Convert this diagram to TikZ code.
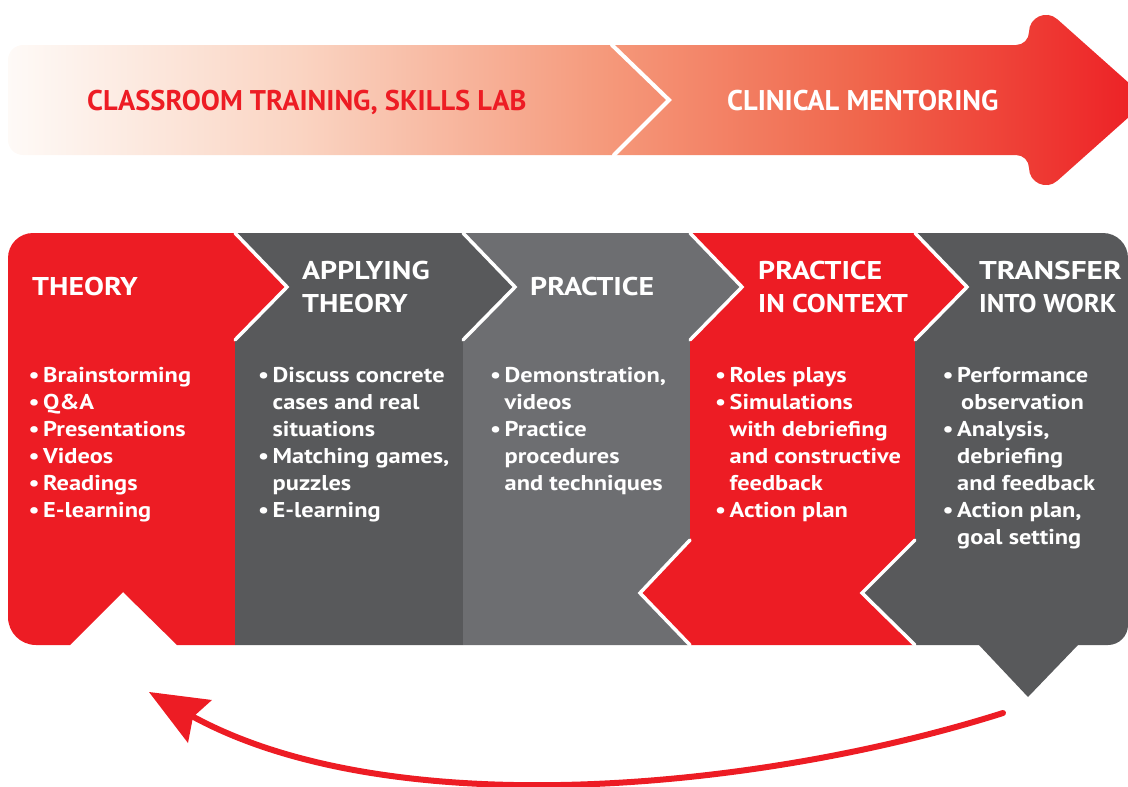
\documentclass[tikz,border=0pt]{standalone}
\usepackage{fontspec}
\setmainfont{PT Sans}
\newfontfamily\itemfont[FakeStretch=1.14]{PT Sans}
\newfontfamily\titlefont[FakeStretch=1.16]{PT Sans}
\definecolor{cred}{HTML}{ED1C24}
\definecolor{cdark}{HTML}{58595B}
\definecolor{cmid}{HTML}{6D6E71}
\definecolor{gA}{RGB}{254,250,247}
\definecolor{gB}{RGB}{250,212,194}
\definecolor{gC}{RGB}{245,152,122}
\definecolor{gD}{RGB}{240,102,76}
\definecolor{gE}{RGB}{237,30,36}
\pgfdeclarehorizontalshading{topgrad}{100bp}{color(0bp)=(gA); color(25bp)=(gA); color(37.8bp)=(gB); color(51.4bp)=(gC); color(62.4bp)=(gD); color(75bp)=(gE); color(100bp)=(gE)}
\newcommand{\bulx}{\makebox[14.5pt][l]{•}}
\newcommand{\indx}{\hspace*{14.5pt}}
\tikzset{
  wline/.style={draw=white, line width=3.5pt, line cap=round, line join=miter},
  ttl/.style={text=white, font=\titlefont\bfseries\fontsize{25.7}{33}\selectfont, anchor=base west, align=left, inner sep=0pt},
  itemlist/.style={text=white, font=\itemfont\bfseries\fontsize{21.4}{27}\selectfont, anchor=base west, align=left, inner sep=0pt},
  toptxt/.style={font=\bfseries\fontsize{28.5}{30}\selectfont, anchor=base west, inner sep=0pt},
}
\begin{document}
\begin{tikzpicture}[x=1pt,y=-1pt]
\useasboundingbox (0,0) rectangle (1128,787);
\clip (0,0) rectangle (1128,787);

% top gradient arrow
\shade[shading=topgrad]
  (8,100) -- (8,60) .. controls (8,51.7) and (14.7,45) .. (23,45)
  -- (1016,45) .. controls (1023.2,45) and (1029,39.2) .. (1029,32)
  .. controls (1029,17.3) and (1046.3,9.4) .. (1057.3,19.2)
  -- (1148,100)
  -- (1057.3,180.8) .. controls (1046.3,190.6) and (1029,182.7) .. (1029,168)
  .. controls (1029,160.8) and (1023.2,155) .. (1016,155)
  -- (23,155) .. controls (14.7,155) and (8,148.3) .. (8,140) -- cycle;
\draw[wline, line width=4pt] (612,45) -- (669,100) -- (614,155);
\node[toptxt, text=cred] (classroom) at (87,110) {CLASSROOM TRAINING, SKILLS LAB};
\node[toptxt, text=white] (clinical) at (727,110) {CLINICAL MENTORING};

% panels
\fill[cred] (8,290) -- (8,258) .. controls (8,244.2) and (19.2,233) .. (33,233)
  -- (235,233) -- (287,287) -- (235,340) -- (235,645) -- (177,645) -- (123,592) -- (70,645)
  -- (36,645) .. controls (20.5,645) and (8,632.5) .. (8,617) -- cycle;
\fill[cdark] (235,233) -- (463,233) -- (515,287) -- (463,340) -- (463,645) -- (235,645)
  -- (235,340) -- (287,287) -- cycle;
\fill[cmid] (463,233) -- (690,233) -- (742,287) -- (690,340) -- (690,540) -- (640,593)
  -- (690,645) -- (463,645) -- (463,340) -- (515,287) -- cycle;
\fill[cred] (690,233) -- (915,233) -- (967,287) -- (915,340) -- (915,540) -- (862,593)
  -- (915,645) -- (690,645) -- (640,593) -- (690,540) -- (690,340) -- (742,287) -- cycle;
\fill[cdark] (915,233) -- (1103,233) .. controls (1116.8,233) and (1128,244.2) .. (1128,258)
  -- (1128,625) .. controls (1128,636) and (1119,645) .. (1108,645)
  -- (1078,645) -- (1028,697) -- (979,645) -- (915,645) -- (862,593) -- (915,540)
  -- (915,340) -- (967,287) -- cycle;

% white chevron separators
\foreach \xx in {235,463,690,915}{
  \draw[wline] (\xx,233) -- (\xx+52,287) -- (\xx,340);
}
\draw[wline] (690,540) -- (640,593) -- (690,645);
\draw[wline] (915,540) -- (862,593) -- (915,645);

% titles (base = last line baseline)
\node[ttl] (t1) at (32,295) {THEORY};
\node[ttl] (t2) at (302,312) {APPLYING\\THEORY};
\node[ttl] (t3) at (530,295) {PRACTICE};
\node[ttl] (t4) at (758,312) {PRACTICE\\\scalebox{0.95}[1]{IN CONTEXT}};
\node[ttl] (t5) at (979,312) {\scalebox{1.05}[1]{TRANSFER}\\\scalebox{0.9}[1]{INTO WORK}};

% item lists (base = last line baseline, first line at 382, pitch 27)
\node[itemlist] (l1) at (28.5,517) {\bulx Brainstorming\\\bulx Q\&A\\\bulx Presentations\\\bulx Videos\\\bulx Readings\\\bulx E-learning};
\node[itemlist] (l2) at (258,517) {\bulx Discuss concrete\\\indx cases and real\\\indx situations\\\bulx Matching games,\\\indx puzzles\\\bulx E-learning};
\node[itemlist] (l3) at (490,490) {\bulx Demonstration,\\\indx videos\\\bulx Practice\\\indx procedures\\\indx and techniques};
\node[itemlist] (l4) at (715,517) {\bulx Roles plays\\\bulx Simulations\\\indx with debriefing\\\indx and constructive\\\indx feedback\\\bulx Action plan};
\node[itemlist] (l5) at (942.5,544) {\bulx Performance\\\indx\hspace*{4pt}observation\\\bulx Analysis,\\\indx debriefing\\\indx and feedback\\\bulx Action plan,\\\indx goal setting};

% return arrow
\coordinate (cstart) at (1003,713);
\coordinate (cend) at (190,715);
\draw[cred, line width=6pt, line cap=round] (cstart) .. controls (760,790) and (390,826) .. (cend);
\fill[cred] (149,692) -- (212,700) -- (193,717) -- (188,743) -- cycle;
\end{tikzpicture}
\end{document}
